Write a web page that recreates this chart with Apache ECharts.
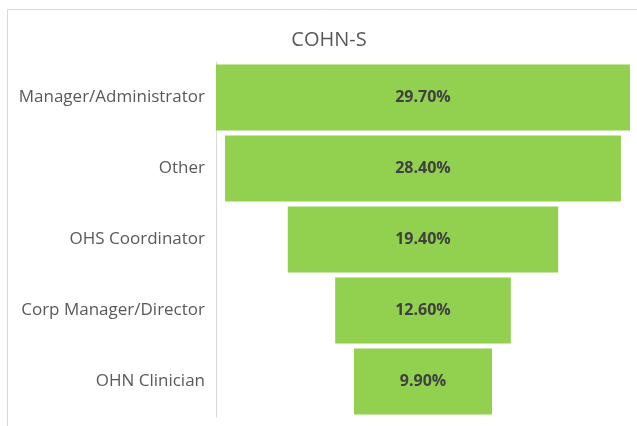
<!DOCTYPE html>
<html>
<head>
<meta charset="UTF-8">
<title>COHN-S</title>
<script src="https://cdn.jsdelivr.net/npm/echarts@6/dist/echarts.min.js"></script>
<style>
  html, body { margin: 0; padding: 0; background: #fff; }
  #main { width: 637px; height: 426px; }
</style>
</head>
<body>
<div id="main"></div>
<script>
// roles and their share
var categories = ['Manager/Administrator', 'Other', 'OHS Coordinator', 'Corp Manager/Director', 'OHN Clinician'];
var values = [29.7, 28.4, 19.4, 12.6, 9.9];

var maxVal = Math.max.apply(null, values);
// invisible padding so each bar is centred like a funnel
var offsets = values.map(function (v) { return (maxVal - v) / 2; });

var myChart = echarts.init(document.getElementById('main'));

var option = {
  backgroundColor: '#fff',
  animation: false,
  title: {
    text: 'COHN-S',
    left: 324,
    top: 25,
    textAlign: 'center',
    textStyle: { fontFamily: 'Open Sans', fontSize: 20, fontWeight: 'normal', color: '#595959' }
  },
  graphic: [{
    type: 'rect',
    silent: true,
    z: -10,
    shape: { x: 7.5, y: 9.5, width: 700, height: 500 },
    style: { fill: 'none', stroke: '#d9d9d9', lineWidth: 1 }
  }],
  grid: { left: 216, right: 7, top: 62, bottom: 9 },
  xAxis: {
    type: 'value',
    min: 0,
    max: maxVal,
    show: false
  },
  yAxis: {
    type: 'category',
    inverse: true,
    data: categories,
    axisLine: { show: true, lineStyle: { color: '#d9d9d9', width: 1 } },
    axisTick: { show: false },
    axisLabel: { margin: 11, color: '#595959', fontFamily: 'Open Sans', fontSize: 17, padding: [4, 0, 0, 0] }
  },
  series: [
    {
      name: 'offset',
      type: 'bar',
      stack: 'f',
      data: offsets,
      itemStyle: { color: 'transparent' },
      barCategoryGap: '7%',
      silent: true
    },
    {
      name: 'share',
      type: 'bar',
      stack: 'f',
      data: values,
      itemStyle: { color: '#92d050' },
      barCategoryGap: '7%',
      label: {
        show: true,
        position: 'inside',
        color: '#404040',
        fontFamily: 'Open Sans',
        fontWeight: 'bold',
        fontSize: 16,
        padding: [4, 0, 0, 0],
        formatter: function (p) { return p.value.toFixed(2) + '%'; }
      }
    }
  ]
};
myChart.setOption(option);
</script>
</body>
</html>
